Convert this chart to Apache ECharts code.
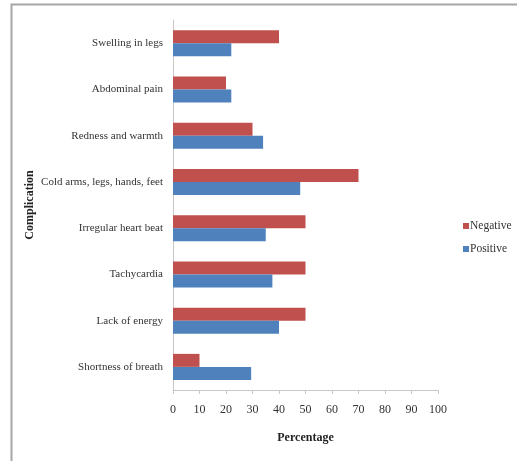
<!DOCTYPE html>
<html>
<head>
<meta charset="utf-8">
<script src="https://cdn.jsdelivr.net/npm/echarts@6/dist/echarts.min.js"></script>
<style>
  html, body { margin: 0; padding: 0; background: #fff; }
  #chart { width: 517px; height: 461px; }
</style>
</head>
<body>
<div id="chart"></div>
<script>
// Complications listed from top to bottom
const complications = [
  'Swelling in legs',
  'Abdominal pain',
  'Redness and warmth',
  'Cold arms, legs, hands, feet',
  'Irregular heart beat',
  'Tachycardia',
  'Lack of energy',
  'Shortness of breath'
];
// Percentages per group, same order as the complications
const negativeValues = [40, 20, 30, 70, 50, 50, 50, 10];
const positiveValues = [22, 22, 34, 48, 35, 37.5, 40, 29.5];
const percentTicks = [0, 10, 20, 30, 40, 50, 60, 70, 80, 90, 100];

const serif = '"Liberation Serif", "Times New Roman", serif';
const chart = echarts.init(document.getElementById('chart'));

chart.setOption({
  animation: false,
  backgroundColor: '#fff',
  textStyle: { fontFamily: serif },
  graphic: [{
    type: 'rect',
    shape: { x: 11.5, y: 4.5, width: 700, height: 700 },
    style: { fill: 'none', stroke: '#a6a6a6', lineWidth: 2 },
    silent: true
  }],
  grid: { left: 173, right: 79, top: 20, bottom: 71 },
  legend: {
    orient: 'vertical',
    left: 458,
    top: 215,
    itemWidth: 6,
    itemHeight: 6,
    itemGap: 11,
    icon: 'rect',
    textStyle: { fontFamily: serif, fontSize: 11.5, color: '#333', padding: [0, 0, 0, -4] },
    data: ['Negative', 'Positive']
  },
  xAxis: {
    type: 'value',
    min: percentTicks[0],
    max: percentTicks[percentTicks.length - 1],
    interval: 10,
    name: 'Percentage',
    nameLocation: 'middle',
    nameGap: 42,
    nameTextStyle: { fontFamily: serif, fontSize: 12, fontWeight: 'bold', color: '#222' },
    axisLine: { show: true, lineStyle: { color: '#c8c8c8', width: 1 } },
    axisTick: { show: true, length: 4, lineStyle: { color: '#c8c8c8' } },
    axisLabel: { fontFamily: serif, fontSize: 12, color: '#333', margin: 14 },
    splitLine: { show: false }
  },
  yAxis: {
    type: 'category',
    inverse: true,
    data: complications,
    name: 'Complication',
    nameLocation: 'middle',
    nameGap: 143,
    nameMoveOverlap: false,
    nameTextStyle: { fontFamily: serif, fontSize: 12, fontWeight: 'bold', color: '#222', verticalAlign: 'middle' },
    axisLine: { show: true, lineStyle: { color: '#c8c8c8', width: 1 } },
    axisTick: { show: false },
    axisLabel: { fontFamily: serif, fontSize: 11, color: '#333', margin: 10 }
  },
  series: [
    {
      name: 'Negative',
      type: 'bar',
      data: negativeValues,
      barWidth: 13,
      barGap: '0%',
      itemStyle: { color: '#C0504D' }
    },
    {
      name: 'Positive',
      type: 'bar',
      data: positiveValues,
      barWidth: 13,
      barGap: '0%',
      itemStyle: { color: '#4F81BD' }
    }
  ]
});
</script>
</body>
</html>
